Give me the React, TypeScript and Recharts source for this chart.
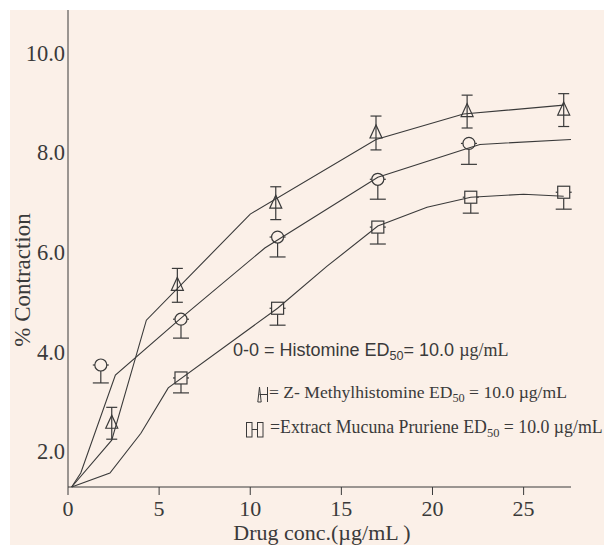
import React from "react";
import {
  ComposedChart,
  Line,
  Scatter,
  XAxis,
  YAxis,
  ErrorBar,
  Label
} from "recharts";

const cream = "#fbf0e8";
const ink = "#3a3a3a";
const serif = "'Liberation Serif', 'Times New Roman', serif";
const sans = "'Liberation Sans', Arial, sans-serif";

// markers: dose, mean, error
const triDose = [2.4, 6.0, 11.4, 16.9, 21.9, 27.2];
const triMean = [2.56, 5.33, 6.98, 8.39, 8.82, 8.85];
const triErr = [0.32, 0.34, 0.33, 0.34, 0.33, 0.33];

const circDose = [1.8, 6.2, 11.5, 17.0, 22.0];
const circMean = [3.73, 4.65, 6.3, 7.46, 8.18];
const circErr = [0.36, 0.38, 0.4, 0.4, 0.42];

const sqDose = [6.2, 11.5, 17.0, 22.1, 27.2];
const sqMean = [3.47, 4.87, 6.5, 7.1, 7.2];
const sqErr = [0.3, 0.34, 0.34, 0.32, 0.34];

// fitted curves
const triCurveX = [0.2, 2.4, 4.3, 10.0, 16.9, 21.7, 27.2];
const triCurveY = [1.28, 2.22, 4.63, 6.76, 8.26, 8.77, 8.95];
const circCurveX = [0.2, 0.7, 2.6, 6.2, 10.8, 17.0, 21.9, 22.6, 27.6];
const circCurveY = [1.28, 1.56, 3.53, 4.67, 6.08, 7.5, 8.08, 8.16, 8.26];
const sqCurveX = [0.2, 2.3, 4.0, 5.5, 11.5, 14.2, 17.0, 19.7, 22.1, 25.0, 27.2];
const sqCurveY = [1.28, 1.56, 2.36, 3.27, 4.87, 5.71, 6.52, 6.9, 7.1, 7.16, 7.12];

const xTicks = [0, 5, 10, 15, 20, 25];
const yTicks = [2, 4, 6, 8, 10];

const curve = (xs: number[], ys: number[]) => xs.map((x, i) => ({ x, y: ys[i] }));
const both = (xs: number[], ys: number[], es: number[]) =>
  xs.map((x, i) => ({ x, y: ys[i], err: es[i] }));
// only the lower whisker is drawn for circles and squares
const lowerOnly = (xs: number[], ys: number[], es: number[]) =>
  xs.map((x, i) => ({ x, y: ys[i], err: [es[i], 0] }));

const Triangle = (p: any) => (
  <polygon
    points={`${p.cx},${p.cy - 8} ${p.cx - 6},${p.cy + 5} ${p.cx + 6},${p.cy + 5}`}
    fill="none"
    stroke={ink}
    strokeWidth={1.2}
  />
);
const Circle = (p: any) => (
  <circle cx={p.cx} cy={p.cy} r={6} fill={cream} stroke={ink} strokeWidth={1.2} />
);
const Square = (p: any) => (
  <rect x={p.cx - 6} y={p.cy - 6} width={12} height={12} fill={cream} stroke={ink} strokeWidth={1.2} />
);

const XTick = (p: any) => (
  <text x={p.x} y={p.y} dy={16} textAnchor="middle" fontSize={22} fill={ink} fontFamily={serif}>
    {p.payload.value}
  </text>
);
const YTick = (p: any) => (
  <text x={p.x} y={p.y} dy={8} textAnchor="end" fontSize={22.5} fill={ink} fontFamily={serif}>
    {Number(p.payload.value).toFixed(1)}
  </text>
);

const sub = { fontSize: "0.7em", verticalAlign: "-0.3em" } as const;

export default function App() {
  return (
    <div style={{ position: "absolute", left: 0, top: 0, width: 604, height: 545, background: "#fff", overflow: "hidden" }}>
      <div style={{ position: "absolute", left: 10, top: 10, width: 594, height: 535, background: cream }}>
        <ComposedChart width={594} height={535} margin={{ top: 0, right: 33, bottom: 0, left: 0 }}>
          <XAxis
            type="number"
            dataKey="x"
            domain={[0, 27.6]}
            ticks={xTicks}
            height={58}
            tickSize={8}
            tickMargin={5}
            stroke={ink}
            tick={XTick}
          >
            <Label
              content={() => (
                <text x={312} y={530} textAnchor="middle" fontSize={22} fill={ink} fontFamily={serif}>
                  Drug conc.(µg/mL )
                </text>
              )}
            />
          </XAxis>
          <YAxis
            type="number"
            dataKey="y"
            domain={[1.28, 10.86]}
            ticks={yTicks}
            width={58}
            tickLine={false}
            tickSize={0}
            tickMargin={3}
            stroke={ink}
            tick={YTick}
          >
            <Label
              content={() => (
                <text
                  x={12}
                  y={270}
                  transform="rotate(-90, 12, 270)"
                  textAnchor="middle"
                  dominantBaseline="central"
                  fontSize={23}
                  fill={ink}
                  fontFamily={serif}
                >
                  % Contraction
                </text>
              )}
            />
          </YAxis>

          <Scatter data={both(triDose, triMean, triErr)} shape={Triangle} isAnimationActive={false}>
            <ErrorBar dataKey="err" direction="y" width={5.5} stroke={ink} strokeWidth={1.2} />
          </Scatter>
          <Scatter data={lowerOnly(circDose, circMean, circErr)} shape={Circle} isAnimationActive={false}>
            <ErrorBar dataKey="err" direction="y" width={8} stroke={ink} strokeWidth={1.2} />
          </Scatter>
          <Scatter data={lowerOnly(sqDose, sqMean, sqErr)} shape={Square} isAnimationActive={false}>
            <ErrorBar dataKey="err" direction="y" width={8} stroke={ink} strokeWidth={1.2} />
          </Scatter>

          <Line data={curve(triCurveX, triCurveY)} dataKey="y" type="linear" dot={false} stroke={ink} strokeWidth={1.1} isAnimationActive={false} zIndex={700} />
          <Line data={curve(circCurveX, circCurveY)} dataKey="y" type="linear" dot={false} stroke={ink} strokeWidth={1.1} isAnimationActive={false} zIndex={700} />
          <Line data={curve(sqCurveX, sqCurveY)} dataKey="y" type="linear" dot={false} stroke={ink} strokeWidth={1.1} isAnimationActive={false} zIndex={700} />
        </ComposedChart>
      </div>

      <div style={{ position: "absolute", left: 233, top: 340, fontFamily: sans, fontSize: 18, lineHeight: "20px", color: ink, whiteSpace: "nowrap" }}>
        0-0 = Histomine ED<span style={sub}>50</span>= 10.0 <span style={{ fontFamily: serif }}>µg/mL</span>
      </div>
      <div style={{ position: "absolute", left: 257, top: 382, fontFamily: serif, fontSize: 17.6, lineHeight: "20px", color: ink, whiteSpace: "nowrap", display: "flex", alignItems: "center" }}>
        <svg width={12} height={17}>
          <polygon points="2.5,1 0.8,16 4.2,16" fill="none" stroke={ink} strokeWidth={1} />
          <line x1={2.5} y1={8.5} x2={10.5} y2={8.5} stroke={ink} strokeWidth={1} />
          <line x1={10.5} y1={1} x2={10.5} y2={16} stroke={ink} strokeWidth={1} />
        </svg>
        <span>= Z- Methylhistomine ED<span style={sub}>50</span> = 10.0 µg/mL</span>
      </div>
      <div style={{ position: "absolute", left: 246, top: 417, fontFamily: serif, fontSize: 17.8, lineHeight: "20px", color: ink, whiteSpace: "nowrap", display: "flex", alignItems: "center" }}>
        <svg width={18} height={16} style={{ marginRight: 6 }}>
          <rect x={0.5} y={0.5} width={5.5} height={14.5} fill="none" stroke={ink} strokeWidth={1} />
          <rect x={11.5} y={0.5} width={5.5} height={14.5} fill="none" stroke={ink} strokeWidth={1} />
          <line x1={6} y1={7.5} x2={11.5} y2={7.5} stroke={ink} strokeWidth={1} />
        </svg>
        <span>=Extract Mucuna Pruriene ED<span style={sub}>50</span> = 10.0 µg/mL</span>
      </div>
    </div>
  );
}
